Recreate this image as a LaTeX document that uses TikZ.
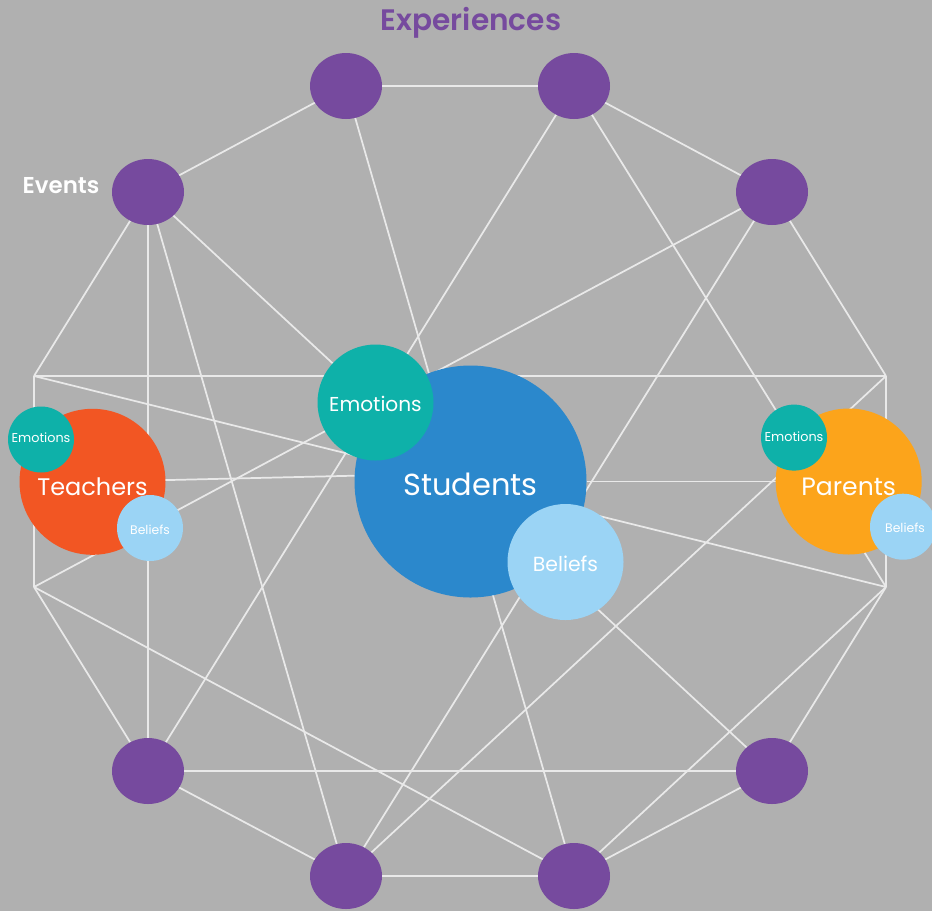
\documentclass[tikz,border=0pt]{standalone}
\usepackage{fontspec}
\setmainfont{Poppins}
\newfontfamily\semib{Poppins SemiBold}
\usetikzlibrary{backgrounds,shapes.geometric}
\definecolor{bgc}{HTML}{B0B0B0}
\definecolor{purp}{HTML}{764A9E}
\definecolor{teal2}{HTML}{0EB1A9}
\definecolor{blue2}{HTML}{2B88CC}
\definecolor{sky}{HTML}{9BD4F5}
\definecolor{orng}{HTML}{F25623}
\definecolor{ambr}{HTML}{FCA41B}
\definecolor{edgec}{HTML}{E9E9E9}
\tikzset{
  x=0.75pt,y=-0.75pt,
  ev/.style={draw=none,fill=purp,shape=ellipse,minimum width=54pt,minimum height=49.5pt,inner sep=0pt},
  disc/.style={circle,draw=none,inner sep=0pt},
  big/.style={disc,minimum size=174pt},
  mid/.style={disc,minimum size=109.5pt},
  medi/.style={disc,minimum size=87pt},
  smal/.style={disc,minimum size=49.5pt},
  lab/.style={text=white,inner sep=0pt},
  link/.style={draw=edgec,line width=1.3pt},
}
\begin{document}
\begin{tikzpicture}
\clip (0,0) rectangle (932,911);
% events
\node[ev] (a) at (346,86) {};
\node[ev] (b) at (574,86) {};
\node[ev] (c) at (772,192) {};
\node[ev] (d) at (148,192) {};
\node[ev] (e) at (148,771) {};
\node[ev] (f) at (346,876) {};
\node[ev] (g) at (574,876) {};
\node[ev] (h) at (772,771) {};
\coordinate (la) at (34,376);
\coordinate (lb) at (34,587);
\coordinate (ra) at (886,376);
\coordinate (rb) at (886,587);
\coordinate (sl) at (470,473);
% groups
\node[big,fill=blue2] (st) at (470.5,481.5) {};
\node[mid,fill=orng] (te) at (92.5,481.8) {};
\node[mid,fill=ambr] (pa) at (848.7,481.5) {};
\node[medi,fill=teal2] (em) at (375.5,402.5) {};
\node[medi,fill=sky] (be) at (565.5,562) {};
\node[smal,fill=teal2] (em1) at (41,439.5) {};
\node[smal,fill=sky] (be1) at (150,528) {};
\node[smal,fill=teal2] (em2) at (794,437.6) {};
\node[smal,fill=sky] (be2) at (903,526.7) {};
% labels
\node[lab,font=\fontsize{22.8}{28}\selectfont] (stl) at (470.5,484) {Students};
\node[lab,font=\fontsize{18}{22}\selectfont] (tel) at (92.5,486.5) {Teachers};
\node[lab,font=\fontsize{18.8}{22}\selectfont] (pal) at (848.7,486.5) {Parents};
\node[lab,font=\fontsize{15.1}{18}\selectfont] (eml) at (375.5,403.5) {Emotions};
\node[lab,font=\fontsize{15.3}{18}\selectfont] (bel) at (565.5,564) {Beliefs};
\node[lab,font=\fontsize{9.6}{12}\selectfont] (em1l) at (41,438) {Emotions};
\node[lab,font=\fontsize{9.3}{12}\selectfont] (be1l) at (150,530) {Beliefs};
\node[lab,font=\fontsize{9.6}{12}\selectfont] (em2l) at (794,437) {Emotions};
\node[lab,font=\fontsize{9.3}{12}\selectfont] (be2l) at (905,528) {Beliefs};
\node[lab,text=purp,font=\fontsize{22.2}{26}\semib] (xp) at (471,23) {Experiences};
\node[lab,font=\fontsize{17.2}{20}\semib] (evl) at (61,185.5) {Events};
\begin{pgfonlayer}{background}
\fill[bgc] (0,0) rectangle (932,911);
\foreach \p/\q in {d/a,a/b,b/c,c/ra,ra/rb,rb/h,h/g,g/f,f/e,e/lb,lb/la,la/d,
  d/h,d/f,d/e,a/g,b/e,b/rb,c/lb,c/f,ra/f,la/rb,lb/g,rb/g,la/ra,e/h,st/pa}
  \draw[link] (\p.center) -- (\q.center);
\draw[link] (te.center) -- (sl);
\end{pgfonlayer}
\end{tikzpicture}
\end{document}
